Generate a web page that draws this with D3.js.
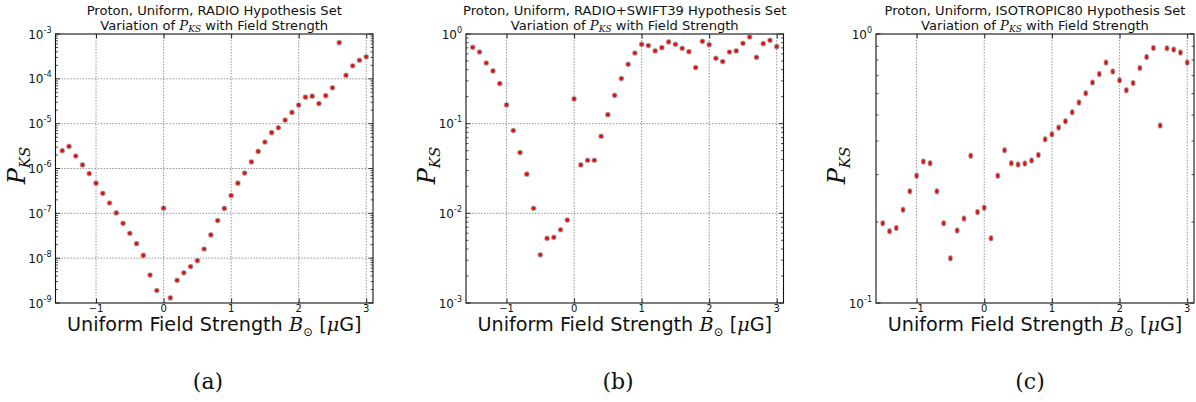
<!DOCTYPE html>
<html><head><meta charset="utf-8">
<script src="https://cdn.jsdelivr.net/npm/d3@7"></script>
<style>body{margin:0;background:#fff}svg{display:block}</style>
</head><body>
<script>
const fieldStrength = [-1.5,-1.4,-1.3,-1.2,-1.1,-1.0,-0.9,-0.8,-0.7,-0.6,-0.5,-0.4,-0.3,-0.2,-0.1,0.0,0.1,0.2,0.3,0.4,0.5,0.6,0.7,0.8,0.9,1.0,1.1,1.2,1.3,1.4,1.5,1.6,1.7,1.8,1.9,2.0,2.1,2.2,2.3,2.4,2.5,2.6,2.7,2.8,2.9,3.0];
const radioPks = [2.5e-6,3.1e-6,1.9e-6,1.2e-6,7.7e-7,4.7e-7,2.8e-7,1.7e-7,1.02e-7,6.0e-8,3.6e-8,2.1e-8,1.15e-8,4.2e-9,1.9e-9,1.3e-7,1.3e-9,3.2e-9,4.7e-9,6.5e-9,8.8e-9,1.6e-8,3.3e-8,6.9e-8,1.29e-7,2.5e-7,4.7e-7,7.9e-7,1.4e-6,2.4e-6,3.9e-6,6.3e-6,8.1e-6,1.2e-5,1.78e-5,2.6e-5,3.9e-5,4.1e-5,2.8e-5,4.2e-5,6.3e-5,6.4e-4,1.2e-4,1.95e-4,2.6e-4,3.1e-4];
const swiftPks = [0.71,0.63,0.475,0.387,0.28,0.162,0.0838,0.0476,0.0273,0.0114,0.00345,0.00525,0.0054,0.00656,0.0084,0.189,0.0347,0.0391,0.0391,0.0724,0.126,0.207,0.318,0.459,0.614,0.767,0.742,0.647,0.704,0.815,0.767,0.692,0.635,0.422,0.828,0.76,0.536,0.492,0.63,0.647,0.787,0.926,0.55,0.78,0.85,0.723];
const isoPks = [0.198,0.185,0.19,0.222,0.26,0.297,0.336,0.331,0.26,0.198,0.1466,0.186,0.206,0.353,0.218,0.226,0.174,0.297,0.37,0.331,0.327,0.33,0.339,0.355,0.406,0.424,0.449,0.474,0.512,0.556,0.602,0.66,0.71,0.783,0.725,0.673,0.618,0.658,0.748,0.822,0.887,0.457,0.885,0.875,0.853,0.783];
const xTickValues = [-1,0,1,2,3];
const radioTickExps = [-9,-8,-7,-6,-5,-4,-3];
const swiftTickExps = [-3,-2,-1,0];
const isoTickExps = [-1,0];
const panelNames = ["RADIO","RADIO+SWIFT39","ISOTROPIC80"];
const captions = ["(a)","(b)","(c)"];

const panels = [
  {name:panelNames[0], vals:radioPks, exps:radioTickExps, cap:captions[0], left:55.5, right:373, capX:208, ell:false},
  {name:panelNames[1], vals:swiftPks, exps:swiftTickExps, cap:captions[1], left:466, right:783.5, capX:618, ell:false},
  {name:panelNames[2], vals:isoPks, exps:isoTickExps, cap:captions[2], left:876, right:1194, capX:1030, ell:true}
];
const TOP = 34, BOTTOM = 303;
const SANS = "'DejaVu Sans', sans-serif";
const SERIF = "'DejaVu Serif', serif";

const svg = d3.select("body").append("svg").attr("width",1196).attr("height",402);

panels.forEach(p => {
  const W = p.right - p.left, H = BOTTOM - TOP;
  const cx = p.left + W/2;
  const x = d3.scaleLinear().domain([-1.6,3.1]).range([0,W]);
  const ymin = Math.pow(10, d3.min(p.exps)), ymax = Math.pow(10, d3.max(p.exps));
  const y = d3.scaleLog().domain([ymin,ymax]).range([H,0]);
  const g = svg.append("g").attr("transform",`translate(${p.left},${TOP})`);

  // grid
  g.selectAll(".vg").data(xTickValues).join("line")
    .attr("x1",d=>x(d)).attr("x2",d=>x(d)).attr("y1",0).attr("y2",H)
    .attr("stroke","#8a8a8a").attr("stroke-width",0.9).attr("stroke-dasharray","1.5,1.5");
  const majors = p.exps.map(e=>Math.pow(10,e));
  g.selectAll(".hg").data(majors.slice(1,-1)).join("line")
    .attr("x1",0).attr("x2",W).attr("y1",d=>y(d)).attr("y2",d=>y(d))
    .attr("stroke","#8a8a8a").attr("stroke-width",0.9).attr("stroke-dasharray","1.5,1.5");

  // minor ticks (log)
  const minors = [];
  for (let i=0;i<majors.length-1;i++) for (let k=2;k<=9;k++) minors.push(majors[i]*k);
  [[0,1],[W,-1]].forEach(([x0,dir])=>{
    g.append("g").selectAll("line").data(minors).join("line")
      .attr("x1",x0).attr("x2",x0+dir*2.5).attr("y1",d=>y(d)).attr("y2",d=>y(d))
      .attr("stroke","#222").attr("stroke-width",0.8);
    g.append("g").selectAll("line").data(majors).join("line")
      .attr("x1",x0).attr("x2",x0+dir*4.5).attr("y1",d=>y(d)).attr("y2",d=>y(d))
      .attr("stroke","#222").attr("stroke-width",0.9);
  });
  const ax = g.append("g").attr("transform",`translate(0,${H})`)
    .call(d3.axisBottom(x).tickValues(xTickValues).tickSize(-4.5).tickFormat(""));
  ax.select(".domain").remove();
  ax.selectAll("line").attr("stroke","#222");
  const axt = g.append("g").call(d3.axisTop(x).tickValues(xTickValues).tickSize(-4.5).tickFormat(""));
  axt.select(".domain").remove();
  axt.selectAll("line").attr("stroke","#222");

  // x tick labels
  g.selectAll(".xl").data(xTickValues).join("text")
    .attr("x",d=>x(d)).attr("y",H+9).attr("text-anchor","middle")
    .attr("font-family",SANS).attr("font-size",10).attr("fill","#111")
    .text(d=> d<0 ? "\u2212"+Math.abs(d) : String(d));

  // y tick labels 10^e
  p.exps.forEach(e=>{
    const t = g.append("text").attr("x",-4).attr("y",y(Math.pow(10,e))+4.5)
      .attr("text-anchor","end").attr("font-family",SANS).attr("fill","#111");
    t.append("tspan").attr("font-size",12).text("10");
    t.append("tspan").attr("font-size",8).attr("dy",-6).text(e<0? "-"+Math.abs(e) : String(e));
  });

  // markers
  g.append("g").selectAll("ellipse").data(fieldStrength.map((b,i)=>[b,p.vals[i]])).join("ellipse")
    .attr("cx",d=>x(d[0])).attr("cy",d=>y(d[1]))
    .attr("rx", p.ell?1.8:2.1).attr("ry", p.ell?2.5:2.1)
    .attr("fill","#ff0000").attr("stroke","rgba(110,110,110,0.5)").attr("stroke-width",1.5);

  // frame
  g.append("rect").attr("x",0).attr("y",0).attr("width",W).attr("height",H)
    .attr("fill","none").attr("stroke","#111").attr("stroke-width",1.1);

  // title
  svg.append("text").attr("x",cx).attr("y",15).attr("text-anchor","middle")
    .attr("font-family",SANS).attr("font-size",13.1).attr("fill","#111")
    .text(`Proton, Uniform, ${p.name} Hypothesis Set`);
  const t2 = svg.append("text").attr("x",cx).attr("y",29.5).attr("text-anchor","middle")
    .attr("font-family",SANS).attr("font-size",13.1).attr("fill","#111");
  t2.append("tspan").text("Variation of ");
  t2.append("tspan").attr("font-family",SERIF).attr("font-style","italic").text("P");
  t2.append("tspan").attr("font-family",SERIF).attr("font-style","italic").attr("font-size",9).attr("dy",2.5).text("KS");
  t2.append("tspan").attr("dy",-2.5).text(" with Field Strength");

  // x label
  const xl = svg.append("text").attr("x",cx).attr("y",331).attr("text-anchor","middle")
    .attr("font-family",SANS).attr("font-size",19.2).attr("fill","#111");
  xl.append("tspan").text("Uniform Field Strength ");
  xl.append("tspan").attr("font-family",SERIF).attr("font-style","italic").text("B");
  xl.append("tspan").attr("font-family",SERIF).attr("font-size",12).attr("dy",5).text("\u2299");
  xl.append("tspan").attr("dy",-5).text(" [");
  xl.append("tspan").attr("font-family",SERIF).attr("font-style","italic").text("\u03bc");
  xl.append("tspan").text("G]");

  // y label
  const yl = svg.append("text").attr("transform",`translate(${p.left-31},${TOP+H/2-3}) rotate(-90)`)
    .attr("text-anchor","middle").attr("font-family",SERIF).attr("font-style","italic").attr("fill","#111");
  yl.append("tspan").attr("font-size",24).text("P");
  yl.append("tspan").attr("font-size",15).attr("dy",5).text("KS");

  // caption
  svg.append("text").attr("x",p.capX).attr("y",389).attr("text-anchor","middle")
    .attr("font-family",SERIF).attr("font-size",22).attr("fill","#111")
    .text(p.cap);
});
</script>
</body></html>
